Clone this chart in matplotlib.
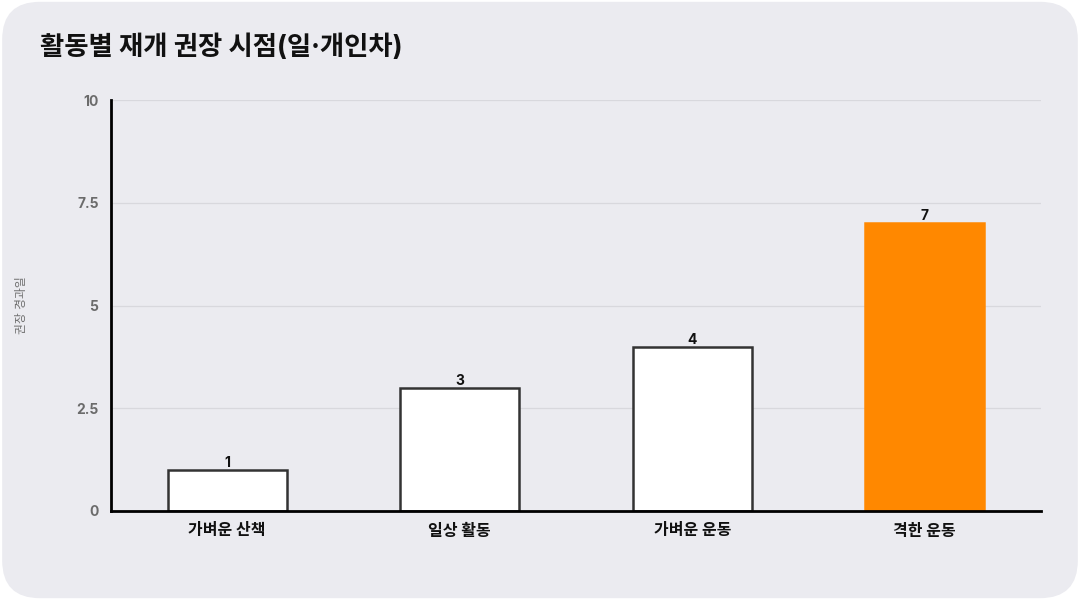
import matplotlib
matplotlib.use("Agg")
import matplotlib.pyplot as plt
from matplotlib.patches import FancyBboxPatch

plt.rcParams['font.family'] = ['Inter', 'Noto Sans CJK KR', 'DejaVu Sans']

# data
categories = ["가벼운 산책", "일상 활동", "가벼운 운동", "격한 운동"]
values = [1, 3, 4, 7]
highlight = "격한 운동"
yticks = [0, 2.5, 5, 7.5, 10]
ytick_labels = ["0", "2.5", "5", "7.5", "10"]

bg = "#ebebf0"
fig = plt.figure(figsize=(10.8, 6), dpi=100, facecolor="white")

# rounded card background
card = FancyBboxPatch((0.002, 0.003), 0.996, 0.994,
                      boxstyle="round,pad=0,rounding_size=0.035",
                      transform=fig.transFigure, facecolor=bg,
                      edgecolor="none", zorder=-10, mutation_aspect=1.8)
fig.patches.append(card)

ax = fig.add_axes([111 / 1080, 1 - 511 / 600, 930 / 1080, 411 / 600])
ax.set_facecolor(bg)

x = list(range(len(categories)))
colors = ["#ff8800" if c == highlight else "white" for c in categories]
edges = ["#ff8800" if c == highlight else "#333333" for c in categories]
ax.bar(x, values, width=0.51, color=colors, edgecolor=edges,
       linewidth=1.8, zorder=3)

for xi, v in zip(x, values):
    ax.text(xi, v, str(v), ha="center", va="bottom", fontsize=10,
            fontweight="bold", color="#111111", zorder=4)

ax.set_xlim(-0.5, 3.5)
ax.set_ylim(0, 10)
ax.set_yticks(yticks)
ax.set_yticklabels(ytick_labels, fontsize=10, fontweight="bold", color="#6b6b6b")
ax.set_xticks(x)
ax.set_xticklabels(categories, fontsize=11.5, fontweight="bold", color="#111111")
ax.tick_params(axis="both", length=0)
ax.tick_params(axis="x", pad=9)
ax.tick_params(axis="y", pad=9)

ax.grid(axis="y", color="#d8d8dd", linewidth=0.9, zorder=0)
ax.set_axisbelow(True)

for s in ["top", "right"]:
    ax.spines[s].set_visible(False)
for s in ["left", "bottom"]:
    ax.spines[s].set_color("black")
    ax.spines[s].set_linewidth(2)
    ax.spines[s].set_zorder(5)

fig.text(22 / 1080, 1 - 305 / 600, "권장 경과일", rotation=90, ha="center",
         va="center", fontsize=8.5, color="#6f6f6f")

fig.text(40 / 1080, 1 - 48 / 600, "활동별 재개 권장 시점(일·개인차)",
         ha="left", va="center", fontsize=19, fontweight="bold", color="#111111")

fig.savefig("out.png", dpi=100, facecolor="white")
